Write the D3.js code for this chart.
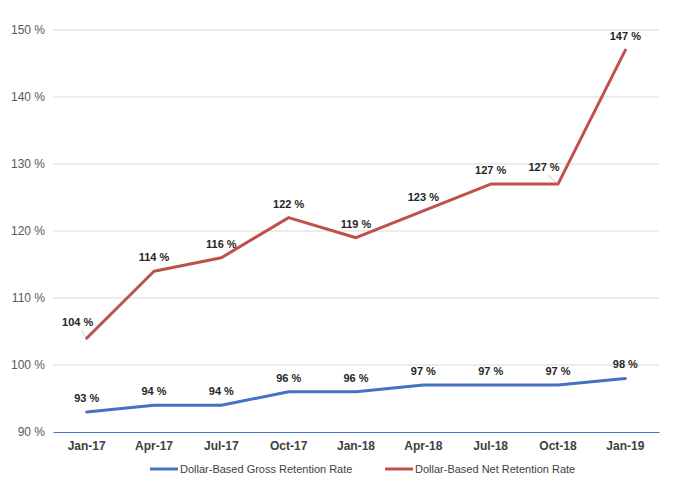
<!DOCTYPE html>
<html><head><meta charset="utf-8">
<script src="https://cdn.jsdelivr.net/npm/d3@7"></script>
<style>body{margin:0;background:#fff}svg{display:block;font-family:"Liberation Sans",Arial,sans-serif}</style>
</head><body><svg id="c" width="695" height="491"></svg>
<script>
const categories = ["Jan-17","Apr-17","Jul-17","Oct-17","Jan-18","Apr-18","Jul-18","Oct-18","Jan-19"];
const grossRetention = [93,94,94,96,96,97,97,97,98];
const netRetention = [104,114,116,122,119,123,127,127,147];
const yTicks = [90,100,110,120,130,140,150];
const seriesNames = ["Dollar-Based Gross Retention Rate","Dollar-Based Net Retention Rate"];
const colors = ["#4472C4","#C0504D"];

const svg = d3.select("#c");
const mLeft = 53, mRight = 659, mTop = 30, mBottom = 432;
const x = d3.scaleBand().domain(categories).range([mLeft, mRight]);
const y = d3.scaleLinear().domain([90,150]).range([mBottom, mTop]);
const cx = i => x(categories[i]) + x.bandwidth()/2;

// grid
svg.append("g").selectAll("line").data(yTicks.slice(1)).join("line")
  .attr("x1", mLeft).attr("x2", mRight).attr("y1", d=>y(d)).attr("y2", d=>y(d))
  .attr("stroke", "#d9d9d9").attr("stroke-width", 1);

// y axis labels
const yAxis = d3.axisLeft(y).tickValues(yTicks).tickFormat(d=>d+" %").tickSize(0).tickPadding(8);
const gy = svg.append("g").attr("transform", `translate(${mLeft},0)`).call(yAxis);
gy.select(".domain").remove();
gy.selectAll("text").attr("fill","#595959").style("font-size","12px").style("font-family","'Liberation Sans',Arial,sans-serif");

// x axis
const xAxis = d3.axisBottom(x).tickSize(0).tickPadding(9);
const gx = svg.append("g").attr("transform", `translate(0,${mBottom})`).call(xAxis);
gx.select(".domain").attr("stroke", "#4472C4").attr("stroke-width", 1.2);
gx.selectAll("text").attr("fill","#404040").style("font-size","12px").style("font-weight","bold").style("font-family","'Liberation Sans',Arial,sans-serif");

const line = d3.line().x((d,i)=>cx(i)).y(d=>y(d)).curve(d3.curveLinear);
// label nudges (layout only) for labels that Excel moved with leader lines
const nudges = [{}, {0:[-9,-2], 7:[-14,-3]}];
[grossRetention, netRetention].forEach((s, k) => {
  svg.append("path").datum(s).attr("d", line).attr("fill","none")
    .attr("stroke", colors[k]).attr("stroke-width", 3)
    .attr("stroke-linecap","round").attr("stroke-linejoin","round");
  const nd = nudges[k];
  // leader lines
  Object.keys(nd).forEach(i => {
    i = +i;
    svg.append("line").attr("x1", cx(i) + nd[i][0] + 4).attr("y1", y(s[i]) - 6 + nd[i][1])
      .attr("x2", cx(i) - 1).attr("y2", y(s[i]) - 1)
      .attr("stroke", "#bfbfbf").attr("stroke-width", 0.8);
  });
  svg.append("g").selectAll("text").data(s).join("text")
    .attr("x", (d,i)=>cx(i) + (nd[i] ? nd[i][0] : 0))
    .attr("y", (d,i)=>y(d) - 10 + (nd[i] ? nd[i][1] : 0))
    .attr("text-anchor","middle")
    .attr("fill","#262626").style("font-size","11px").style("font-weight","bold")
    .text(d=>d+" %");
});

// legend
const legX = [150, 385];
seriesNames.forEach((n,k)=>{
  const g = svg.append("g").attr("transform", `translate(${legX[k]},469)`);
  g.append("line").attr("x1",0).attr("x2",28).attr("y1",0).attr("y2",0).attr("stroke",colors[k]).attr("stroke-width",3);
  g.append("text").attr("x",30).attr("y",4).attr("fill","#404040").style("font-size","11px").text(n);
});
</script></body></html>
